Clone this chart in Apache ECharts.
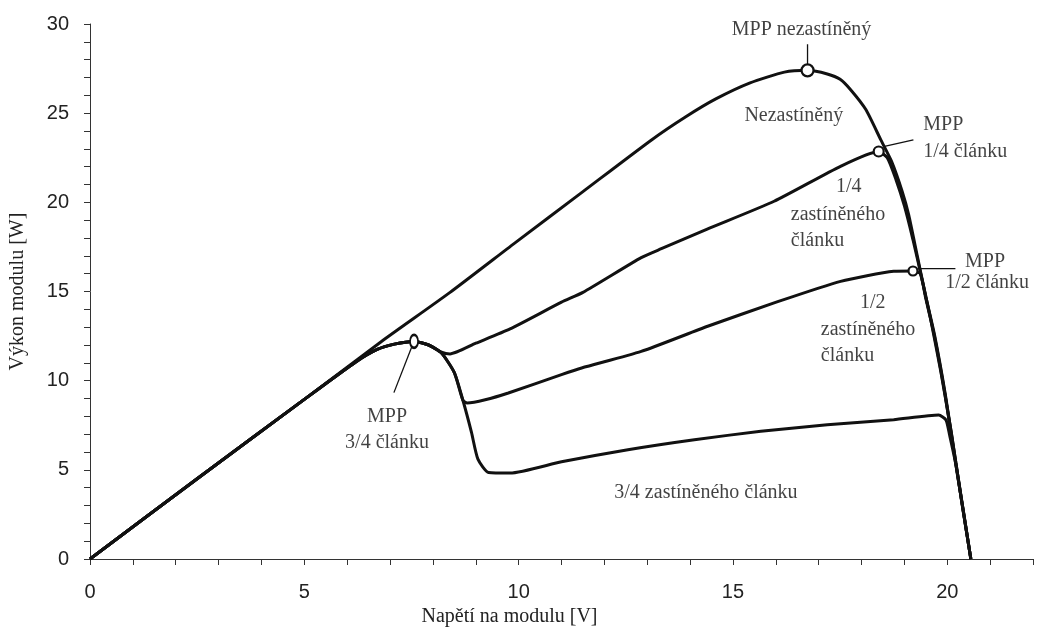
<!DOCTYPE html>
<html>
<head>
<meta charset="utf-8">
<script src="https://cdn.jsdelivr.net/npm/echarts@6/dist/echarts.min.js"></script>
<style>
html,body{margin:0;padding:0;background:#fff;}
#chart{width:1038px;height:632px;}
</style>
</head>
<body>
<div id="chart"></div>
<script>
// ---- data (V, W) ----
const unshaded = [[0,0],[2.5,4.5],[5,8.95],[6.8,12.2],[8.4,14.95],[9.9,17.7],[11.5,20.6],[13.1,23.5],[13.9,24.8],[14.6,25.8],[15.4,26.7],[16.2,27.3],[16.74,27.4],[17.2,27.2],[17.5,26.9],[17.75,26.3],[18.1,25.2],[18.45,23.5],[18.7,22.3],[18.95,20.6],[19.1,19.3],[19.3,17.0],[19.5,14.7],[19.7,12.6],[19.95,9.3],[20.2,5.4],[20.55,0]];
const quarterShaded = [[0,0],[2.5,4.5],[5,8.95],[6.2,11.05],[6.7,11.75],[7.1,12.05],[7.56,12.2],[7.9,12.0],[8.2,11.6],[8.4,11.5],[9.0,12.1],[9.8,12.9],[11.0,14.4],[11.5,14.95],[12.86,16.9],[13.33,17.4],[14.4,18.5],[15.96,20.06],[17.51,22.02],[18.4,22.85],[18.6,22.5],[18.8,21.3],[19.0,19.8],[19.2,17.9],[19.4,15.8],[19.6,13.6],[19.85,10.5],[20.1,7.0],[20.35,3.0],[20.55,0]];
const halfShaded = [[0,0],[2.5,4.5],[5,8.95],[6.2,11.05],[6.7,11.75],[7.1,12.05],[7.56,12.2],[7.9,12.0],[8.2,11.55],[8.5,10.45],[8.7,8.9],[8.8,8.75],[9.22,8.93],[9.76,9.31],[11.0,10.34],[11.47,10.71],[12.86,11.64],[14.41,13.05],[15.96,14.36],[17.51,15.57],[18.75,16.13],[19.2,16.15],[19.37,16.0],[19.5,14.6],[19.7,12.5],[19.95,9.2],[20.2,5.3],[20.55,0]];
const threeQuarterShaded = [[0,0],[2.5,4.5],[5,8.95],[6.2,11.05],[6.7,11.75],[7.1,12.05],[7.56,12.2],[7.9,12.0],[8.2,11.55],[8.5,10.45],[8.7,8.9],[8.9,7.1],[9.05,5.6],[9.3,4.85],[9.8,4.82],[11.0,5.45],[12.55,6.13],[14.1,6.69],[15.65,7.16],[17.2,7.53],[18.75,7.81],[19.8,8.07],[19.97,7.8],[20.05,7.0],[20.2,5.3],[20.55,0]];
const mppPoints = [[16.74,27.4],[18.4,22.85],[19.2,16.15],[7.56,12.2]];
const mppSizes = [12,10,9,[8,13]];
// callout leader lines (data coords)
const leaders = [
  [[16.74,27.74],[16.74,28.86]],
  [[18.51,23.12],[19.21,23.5]],
  [[19.33,16.28],[20.19,16.28]],
  [[7.51,11.91],[7.09,9.33]]
];
// annotation texts with anchor in data coords
const textsCenter = [
  ['MPP nezastíněný',16.6,29.69],
  ['MPP',20.88,16.67],
  ['1/2 článku',20.93,15.5],
  ['MPP',6.93,7.98],
  ['3/4 článku',6.93,6.52],
  ['Nezastíněný',16.42,24.86],
  ['1/4',17.7,20.89],
  ['1/2',18.26,14.37],
  ['3/4 zastíněného článku',14.37,3.72]
];
const textsLeft = [
  ['MPP',19.44,24.35],
  ['1/4 článku',19.44,22.84],
  ['zastíněného',16.35,19.31],
  ['článku',16.35,17.85],
  ['zastíněného',17.05,12.86],
  ['článku',17.05,11.4]
];
const xMax = 22, yMax = 30;

const serif = 'Liberation Serif';
const sans = 'Liberation Sans';
const ink = '#111';

function curve(d){
  return {type:'line', data:d, showSymbol:false, symbol:'none', smooth:0.2,
    lineStyle:{color:ink, width:3}, z:2, silent:true};
}

const series = [curve(unshaded), curve(quarterShaded), curve(halfShaded), curve(threeQuarterShaded)];
leaders.forEach(l => series.push({type:'line', data:l, symbol:'none', lineStyle:{color:ink,width:1.3}, z:3, silent:true}));
series.push({type:'scatter', z:5, silent:true,
  data: mppPoints.map((p,i)=>({value:p, symbolSize:mppSizes[i]})),
  symbol:'circle', itemStyle:{color:'#fff', opacity:1, borderColor:ink, borderWidth:2.2}});
series.push({type:'scatter', z:6, silent:true, symbolSize:0,
  data: textsCenter.map(t=>({name:t[0], value:[t[1],t[2]]})),
  label:{show:true, position:'inside', formatter:p=>p.name, color:ink, fontFamily:serif, fontSize:20}});
series.push({type:'scatter', z:6, silent:true, symbolSize:0,
  data: textsLeft.map(t=>({name:t[0], value:[t[1],t[2]]})),
  label:{show:true, position:'right', distance:0, formatter:p=>p.name, color:ink, fontFamily:serif, fontSize:20}});

const chart = echarts.init(document.getElementById('chart'), null, {renderer:'canvas'});
chart.setOption({
  animation:false,
  backgroundColor:'#fff',
  grid:{left:87, right:5, top:24, bottom:73},
  xAxis:{type:'value', min:0, max:xMax, interval:1,
    name:'Napětí na modulu [V]', nameLocation:'middle', nameGap:36,
    nameTextStyle:{fontFamily:serif, fontSize:20, color:'#222', padding:[0,104,0,0]},
    axisLine:{show:true, onZero:false, lineStyle:{color:'#333', width:1}},
    axisTick:{show:true, length:6, lineStyle:{color:'#333'}},
    splitLine:{show:false},
    axisLabel:{margin:23, fontFamily:sans, fontSize:20, color:'#222', showMaxLabel:true,
      formatter:v=> (v%5===0 ? String(v) : '')}},
  yAxis:{type:'value', min:0, max:yMax, interval:1,
    name:'Výkon modulu [W]', nameLocation:'middle', nameGap:62, nameRotate:90,
    nameTextStyle:{fontFamily:serif, fontSize:20, color:'#222'},
    axisLine:{show:true, lineStyle:{color:'#333', width:1}},
    axisTick:{show:true, length:6, lineStyle:{color:'#333'}},
    splitLine:{show:false},
    axisLabel:{margin:21, fontFamily:sans, fontSize:20, color:'#222',
      formatter:v=> (v%5===0 ? String(v) : '')}},
  series: series
});
</script>
</body>
</html>
